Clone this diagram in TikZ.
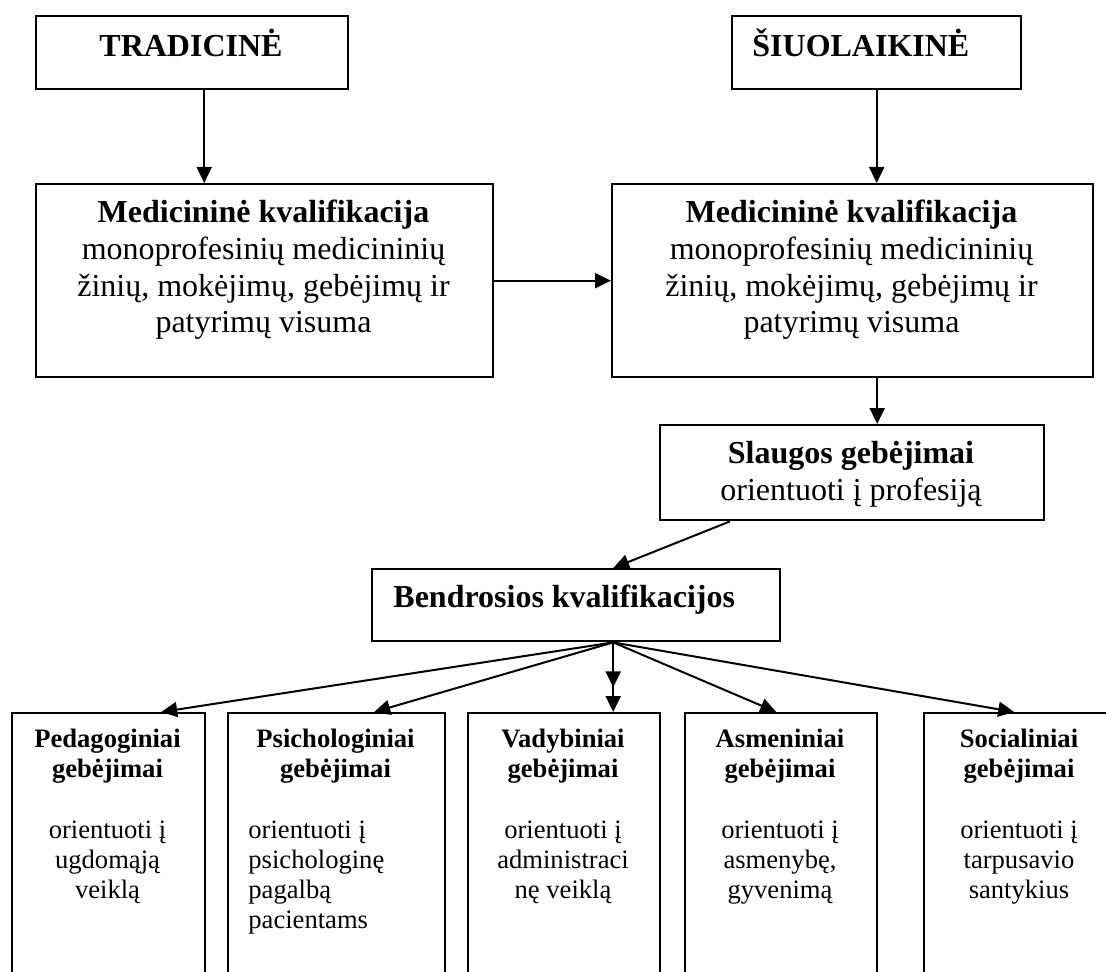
\documentclass[tikz,border=0pt]{standalone}
\usepackage{fontspec}
\setmainfont{Liberation Serif}
\usetikzlibrary{arrows.meta}

\begin{document}
\begin{tikzpicture}[x=0.5pt, y=-0.5pt,
    box/.style={draw, line width=1.2pt, inner sep=0pt, anchor=north west},
    big/.style={inner sep=0pt, font=\fontsize{16}{18.4}\selectfont},
    small/.style={inner sep=0pt, font=\fontsize{13.3}{15}\selectfont},
    arr/.style={->, >={Triangle[length=8pt, width=7.5pt]}, line width=1pt}]
  \useasboundingbox (0,0) rectangle (1106,972);

  % frames
  \begin{scope}[every node/.style={box}]
    \node[minimum width=156pt, minimum height=36.5pt] (trad) at (35,15) {};
    \node[minimum width=144.5pt, minimum height=36.5pt] (siu) at (731,15) {};
    \node[minimum width=228.5pt, minimum height=96.5pt] (med1) at (35,183) {};
    \node[minimum width=240.5pt, minimum height=96.5pt] (med2) at (611,183) {};
    \node[minimum width=192pt, minimum height=47.5pt] (slaug) at (659,424) {};
    \node[minimum width=204pt, minimum height=36pt] (bendr) at (371,568) {};
    \node[minimum width=96.5pt, minimum height=140pt] (ped) at (11,712) {};
    \node[minimum width=108.5pt, minimum height=140pt] (psi) at (227,712) {};
    \node[minimum width=96pt, minimum height=140pt] (vad) at (467,712) {};
    \node[minimum width=96pt, minimum height=140pt] (asm) at (684,712) {};
    \node[minimum width=96pt, minimum height=140pt] (soc) at (923,712) {};
  \end{scope}

  % texts (base = last line)
  \node[big, anchor=base] (tradtxt) at (191,57) {\textbf{TRADICINĖ}};
  \node[big, anchor=base west] (siutxt) at (752,57) {\textbf{ŠIUOLAIKINĖ}};
  \node[big, anchor=base, align=center] (med1txt) at (263.5,333)
    {\textbf{Medicininė kvalifikacija}\\monoprofesinių medicininių\\žinių, mokėjimų, gebėjimų ir\\patyrimų visuma};
  \node[big, anchor=base, align=center] (med2txt) at (851.5,333)
    {\textbf{Medicininė kvalifikacija}\\monoprofesinių medicininių\\žinių, mokėjimų, gebėjimų ir\\patyrimų visuma};
  \node[big, anchor=base, align=center] (slaugtxt) at (851,500)
    {\textbf{Slaugos gebėjimai}\\orientuoti į profesiją};
  \node[big, anchor=base west] (bendrtxt) at (393,607) {\textbf{Bendrosios kvalifikacijos}};

  \begin{scope}[every node/.style={small, anchor=base, align=center}]
    \node (pedtit) at (107.5,777) {\textbf{Pedagoginiai}\\\textbf{gebėjimai}};
    \node (psitit) at (335.5,777) {\textbf{Psichologiniai}\\\textbf{gebėjimai}};
    \node (vadtit) at (563,777) {\textbf{Vadybiniai}\\\textbf{gebėjimai}};
    \node (asmtit) at (780,777) {\textbf{Asmeniniai}\\\textbf{gebėjimai}};
    \node (soctit) at (1019,777) {\textbf{Socialiniai}\\\textbf{gebėjimai}};
    \node (pedtxt) at (107.5,898) {orientuoti į\\ugdomąją\\veiklą};
    \node[anchor=base west, align=left] (psitxt) at (248,928) {orientuoti į\\psichologinę\\pagalbą\\pacientams};
    \node (vadtxt) at (563,898) {orientuoti į\\administraci\\nę veiklą};
    \node (asmtxt) at (780,898) {orientuoti į\\asmenybę,\\gyvenimą};
    \node (soctxt) at (1019,898) {orientuoti į\\tarpusavio\\santykius};
  \end{scope}

  % arrows
  \coordinate (fan) at ([xshift=18.5pt]bendr.south);
  \coordinate (vadmid) at ([yshift=-22.5pt]fan);
  \begin{scope}[arr]
    \draw ([xshift=6pt]trad.south) -- ([xshift=6pt]trad.south |- med1.north);
    \draw (siu.south) -- (siu.south |- med2.north);
    \draw (med1) -- (med2);
    \draw ([xshift=12.25pt]med2.south) -- ([xshift=12.25pt]med2.south |- slaug.north);
    \draw ([xshift=35.5pt]slaug.south west) -- ([xshift=18.5pt]bendr.north);
    \draw (fan) -- ([xshift=26.25pt]ped.north);
    \draw (fan) -- ([xshift=18.75pt]psi.north);
    \draw (fan) -- (vadmid);
    \draw (fan) -- (fan |- vad.north);
    \draw (fan) -- ([xshift=-2.5pt]asm.north);
    \draw (fan) -- ([xshift=-3pt]soc.north);
  \end{scope}
\end{tikzpicture}
\end{document}
